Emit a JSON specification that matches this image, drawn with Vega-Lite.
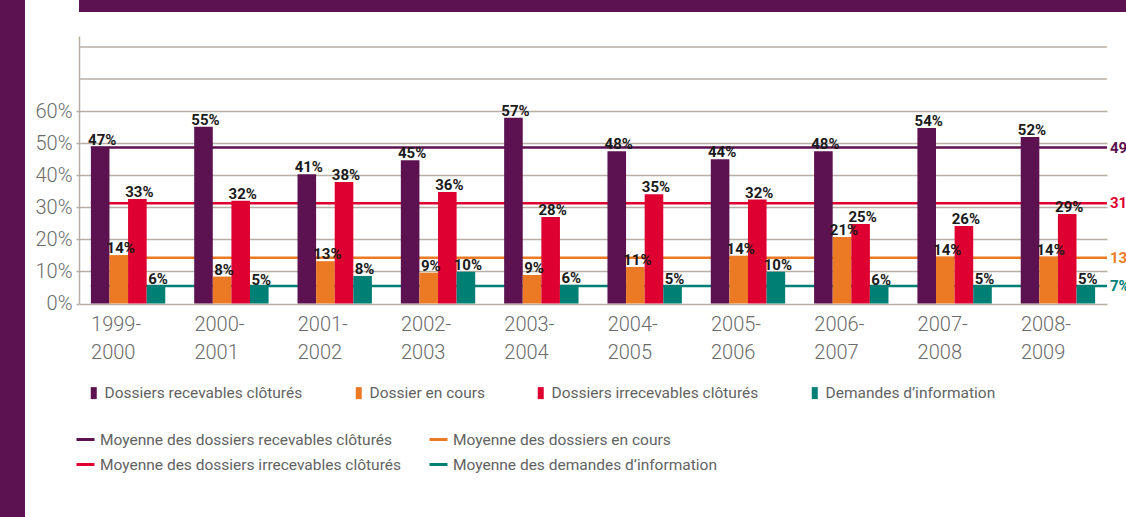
{
  "$schema": "https://vega.github.io/schema/vega-lite/v6.json",
  "background": "white",
  "padding": 0,
  "spacing": 0,
  "config": {"font": "Roboto", "view": {"stroke": null}, "axisY": {"labelOverlap": false}},
  "datasets": {
    "barres": [
      {"periode": "1999-2000", "serie": "Dossiers recevables clôturés", "valeur": 0.489, "label": "47%"},
      {"periode": "1999-2000", "serie": "Dossier en cours", "valeur": 0.151, "label": "14%"},
      {"periode": "1999-2000", "serie": "Dossiers irrecevables clôturés", "valeur": 0.326, "label": "33%"},
      {"periode": "1999-2000", "serie": "Demandes d’information", "valeur": 0.055, "label": "6%"},
      {"periode": "2000-2001", "serie": "Dossiers recevables clôturés", "valeur": 0.551, "label": "55%"},
      {"periode": "2000-2001", "serie": "Dossier en cours", "valeur": 0.084, "label": "8%"},
      {"periode": "2000-2001", "serie": "Dossiers irrecevables clôturés", "valeur": 0.32, "label": "32%"},
      {"periode": "2000-2001", "serie": "Demandes d’information", "valeur": 0.052, "label": "5%"},
      {"periode": "2001-2002", "serie": "Dossiers recevables clôturés", "valeur": 0.403, "label": "41%"},
      {"periode": "2001-2002", "serie": "Dossier en cours", "valeur": 0.132, "label": "13%"},
      {"periode": "2001-2002", "serie": "Dossiers irrecevables clôturés", "valeur": 0.379, "label": "38%"},
      {"periode": "2001-2002", "serie": "Demandes d’information", "valeur": 0.086, "label": "8%"},
      {"periode": "2002-2003", "serie": "Dossiers recevables clôturés", "valeur": 0.447, "label": "45%"},
      {"periode": "2002-2003", "serie": "Dossier en cours", "valeur": 0.096, "label": "9%"},
      {"periode": "2002-2003", "serie": "Dossiers irrecevables clôturés", "valeur": 0.348, "label": "36%"},
      {"periode": "2002-2003", "serie": "Demandes d’information", "valeur": 0.099, "label": "10%"},
      {"periode": "2003-2004", "serie": "Dossiers recevables clôturés", "valeur": 0.579, "label": "57%"},
      {"periode": "2003-2004", "serie": "Dossier en cours", "valeur": 0.089, "label": "9%"},
      {"periode": "2003-2004", "serie": "Dossiers irrecevables clôturés", "valeur": 0.27, "label": "28%"},
      {"periode": "2003-2004", "serie": "Demandes d’information", "valeur": 0.058, "label": "6%"},
      {"periode": "2004-2005", "serie": "Dossiers recevables clôturés", "valeur": 0.475, "label": "48%"},
      {"periode": "2004-2005", "serie": "Dossier en cours", "valeur": 0.114, "label": "11%"},
      {"periode": "2004-2005", "serie": "Dossiers irrecevables clôturés", "valeur": 0.341, "label": "35%"},
      {"periode": "2004-2005", "serie": "Demandes d’information", "valeur": 0.055, "label": "5%"},
      {"periode": "2005-2006", "serie": "Dossiers recevables clôturés", "valeur": 0.45, "label": "44%"},
      {"periode": "2005-2006", "serie": "Dossier en cours", "valeur": 0.149, "label": "14%"},
      {"periode": "2005-2006", "serie": "Dossiers irrecevables clôturés", "valeur": 0.324, "label": "32%"},
      {"periode": "2005-2006", "serie": "Demandes d’information", "valeur": 0.099, "label": "10%"},
      {"periode": "2006-2007", "serie": "Dossiers recevables clôturés", "valeur": 0.475, "label": "48%"},
      {"periode": "2006-2007", "serie": "Dossier en cours", "valeur": 0.207, "label": "21%"},
      {"periode": "2006-2007", "serie": "Dossiers irrecevables clôturés", "valeur": 0.248, "label": "25%"},
      {"periode": "2006-2007", "serie": "Demandes d’information", "valeur": 0.052, "label": "6%"},
      {"periode": "2007-2008", "serie": "Dossiers recevables clôturés", "valeur": 0.547, "label": "54%"},
      {"periode": "2007-2008", "serie": "Dossier en cours", "valeur": 0.146, "label": "14%"},
      {"periode": "2007-2008", "serie": "Dossiers irrecevables clôturés", "valeur": 0.242, "label": "26%"},
      {"periode": "2007-2008", "serie": "Demandes d’information", "valeur": 0.055, "label": "5%"},
      {"periode": "2008-2009", "serie": "Dossiers recevables clôturés", "valeur": 0.519, "label": "52%"},
      {"periode": "2008-2009", "serie": "Dossier en cours", "valeur": 0.146, "label": "14%"},
      {"periode": "2008-2009", "serie": "Dossiers irrecevables clôturés", "valeur": 0.279, "label": "29%"},
      {"periode": "2008-2009", "serie": "Demandes d’information", "valeur": 0.055, "label": "5%"}
    ],
    "moyennes": [
      {"debut": "1999-2000", "serie": "Dossiers recevables clôturés", "moyenne": "Moyenne des dossiers recevables clôturés", "valeur": 0.486, "label": "49%"},
      {"debut": "1999-2000", "serie": "Dossier en cours", "moyenne": "Moyenne des dossiers en cours", "valeur": 0.143, "label": "13%"},
      {"debut": "1999-2000", "serie": "Dossiers irrecevables clôturés", "moyenne": "Moyenne des dossiers irrecevables clôturés", "valeur": 0.3125, "label": "31%"},
      {"debut": "1999-2000", "serie": "Demandes d’information", "moyenne": "Moyenne des demandes d’information", "valeur": 0.0546, "label": "7%"}
    ],
    "grille": [{"valeur": 0.7}, {"valeur": 0.8}]
  },
  "hconcat": [
    {
      "width": 25, "height": 517,
      "data": {"values": [{}]},
      "mark": {"type": "rect", "opacity": 0},
      "encoding": {},
      "view": {"fill": "#5c1150", "stroke": null}
    },
    {
      "spacing": 24,
      "vconcat": [
        {
          "width": 1101, "height": 12,
          "data": {"values": [{}]},
          "mark": {"type": "rect", "opacity": 0},
          "encoding": {},
          "view": {"fill": "#5c1150", "stroke": null}
        },
        {
          "width": 1028, "height": 267.5,
          "layer": [
            {
              "data": {"name": "grille"},
              "mark": {"type": "rule", "strokeWidth": 1.5, "color": "#b7aea6"},
              "encoding": {
                "y": {
                  "field": "valeur", "type": "quantitative", "title": null,
                  "scale": {"domain": [0, 0.834], "nice": false},
                  "axis": {
                    "values": [0, 0.1, 0.2, 0.3, 0.4, 0.5, 0.6],
                    "format": ".0%",
                    "labelOverlap": false,
                    "grid": true, "gridColor": "#b7aea6", "gridWidth": 1.5,
                    "domainColor": "#b7aea6", "domainWidth": 1.5,
                    "tickColor": "#b7aea6", "tickSize": 3, "tickWidth": 1.5,
                    "labelFontSize": 20, "labelFontWeight": 300, "labelColor": "#6a6a6a",
                    "labelPadding": 4, "minExtent": 54, "maxExtent": 54
                  }
                }
              }
            },
            {
              "data": {"name": "moyennes"},
              "mark": {"type": "rule", "strokeWidth": 2.5},
              "encoding": {
                "x": {"field": "debut", "type": "nominal", "bandPosition": 0, "title": null},
                "x2": {"value": "width"},
                "y": {"field": "valeur", "type": "quantitative", "title": null},
                "stroke": {
                  "field": "moyenne", "type": "nominal",
                  "scale": {
                    "domain": ["Moyenne des dossiers recevables clôturés", "Moyenne des dossiers en cours", "Moyenne des dossiers irrecevables clôturés", "Moyenne des demandes d’information"],
                    "range": ["#5c1150", "#ec7a24", "#de0030", "#007f74"]
                  },
                  "legend": {
                    "orient": "none", "legendX": 75, "legendY": 429,
                    "direction": "horizontal", "columns": 2,
                    "columnPadding": 22, "rowPadding": 6, "padding": 0,
                    "symbolType": "stroke", "symbolSize": 324, "symbolStrokeWidth": 3,
                    "labelOffset": 4, "labelFontSize": 15.5, "labelColor": "#626262",
                    "labelLimit": 400, "title": null
                  }
                }
              }
            },
            {
              "data": {"name": "barres"},
              "mark": {"type": "bar"},
              "encoding": {
                "x": {
                  "field": "periode", "type": "nominal", "title": null,
                  "scale": {"paddingInner": 0.28, "paddingOuter": 0.115},
                  "axis": {
                    "domain": false, "ticks": false, "grid": false,
                    "labelAngle": 0, "labelAlign": "left", "labelOffset": -37,
                    "labelBaseline": "top", "labelPadding": 11,
                    "labelFontSize": 20, "labelLineHeight": 28, "labelFontWeight": 300,
                    "labelColor": "#6a6a6a", "labelOverlap": false,
                    "labelExpr": "[substring(datum.label, 0, 5), substring(datum.label, 5)]"
                  }
                },
                "xOffset": {
                  "field": "serie", "type": "nominal",
                  "scale": {
                    "domain": ["Dossiers recevables clôturés", "Dossier en cours", "Dossiers irrecevables clôturés", "Demandes d’information"],
                    "paddingInner": 0, "paddingOuter": 0
                  }
                },
                "y": {"field": "valeur", "type": "quantitative", "title": null},
                "color": {
                  "field": "serie", "type": "nominal",
                  "scale": {
                    "domain": ["Dossiers recevables clôturés", "Dossier en cours", "Dossiers irrecevables clôturés", "Demandes d’information"],
                    "range": ["#5c1150", "#ec7a24", "#de0030", "#007f74"]
                  },
                  "legend": {
                    "orient": "none", "legendX": 86, "legendY": 385,
                    "direction": "horizontal", "columns": 4,
                    "columnPadding": 48, "padding": 0,
                    "symbolType": "M-0.5,-1H0.5V1H-0.5Z", "symbolSize": 144, "symbolStrokeWidth": 0,
                    "labelOffset": 3, "labelFontSize": 15.5, "labelColor": "#626262",
                    "labelLimit": 400, "title": null
                  }
                }
              }
            },
            {
              "data": {"name": "barres"},
              "mark": {"type": "text", "baseline": "alphabetic", "dy": -2, "dx": 2, "fontSize": 15, "fontWeight": "bold", "color": "#1a1a1a"},
              "encoding": {
                "x": {"field": "periode", "type": "nominal", "title": null},
                "xOffset": {"field": "serie", "type": "nominal"},
                "y": {"field": "valeur", "type": "quantitative", "title": null},
                "text": {"field": "label"}
              }
            },
            {
              "data": {"name": "moyennes"},
              "mark": {"type": "text", "align": "left", "baseline": "middle", "dx": 3, "fontSize": 15, "fontWeight": "bold"},
              "encoding": {
                "x": {"value": "width"},
                "y": {"field": "valeur", "type": "quantitative", "title": null},
                "text": {"field": "label"},
                "color": {"field": "serie", "type": "nominal"}
              }
            }
          ]
        }
      ]
    }
  ]
}
